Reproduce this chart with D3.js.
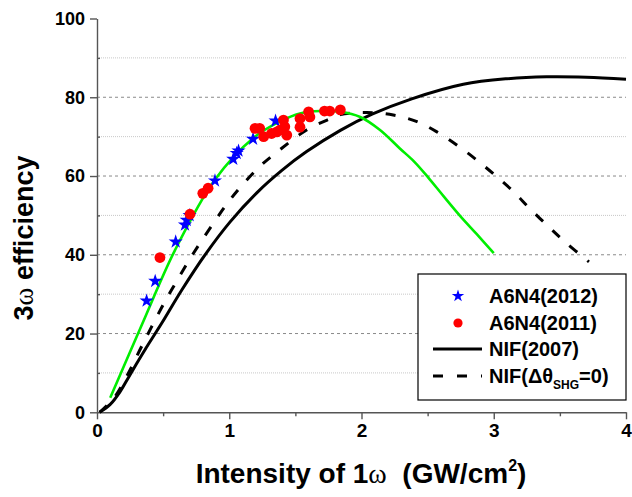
<!DOCTYPE html>
<html>
<head>
<meta charset="utf-8">
<script src="https://cdn.jsdelivr.net/npm/d3@7"></script>
<style>
body { margin: 0; background: #fff; }
svg { display: block; }
text { font-family: "Liberation Sans", Arial, sans-serif; font-weight: bold; fill: #000; }
</style>
</head>
<body>
<div id="plot_area"></div>
<script>
// measured points, A6N4 crystals
var star_x = [0.375, 0.44, 0.595, 0.665, 0.678, 0.70, 0.892, 1.03, 1.056, 1.07, 1.18, 1.35];
var star_y = [28.3, 33.3, 43.3, 47.6, 48.8, 50.0, 58.8, 64.3, 65.8, 66.4, 69.4, 74.0];

var dot_x = [0.476, 0.703, 0.80, 0.84, 1.195, 1.23, 1.26, 1.32, 1.36, 1.385, 1.41, 1.42, 1.435,
             1.535, 1.535, 1.60, 1.61, 1.72, 1.76, 1.84];
var dot_y = [39.3, 50.3, 55.6, 56.9, 72.1, 72.1, 70.0, 70.8, 71.2, 71.7, 74.2, 72.5, 70.4,
             74.6, 72.4, 76.3, 75.0, 76.5, 76.5, 76.8];

// green fit curve
var fit_x = [0.1, 0.34, 0.59, 0.89, 1.18, 1.38, 1.535, 1.69, 1.84, 1.99, 2.14, 2.29, 2.40,
             2.505, 2.62, 2.745, 2.87, 3.0];
var fit_y = [3.7, 22.3, 41.2, 59.0, 69.6, 73.8, 75.9, 76.5, 76.3, 75.0, 71.7, 67.0, 63.6,
             59.6, 54.9, 49.9, 45.3, 40.4];

// NIF(2007)
var nif_x = [0.02, 0.1, 0.17, 0.237, 0.30, 0.363, 0.489, 0.64, 0.817, 1.005, 1.21, 1.40, 1.585,
             1.84, 2.08, 2.38, 2.77, 3.1, 3.40, 3.7, 4.0];
var nif_y = [0, 2.0, 5.0, 8.8, 12.4, 15.9, 22.6, 31.0, 40.0, 48.3, 55.8, 61.5, 66.2,
             71.6, 75.7, 79.6, 83.3, 84.7, 85.2, 85.1, 84.6];

// NIF(dtheta_SHG = 0)
var nif0_x = [0.02, 0.136, 0.237, 0.337, 0.489, 0.59, 0.69, 0.766, 0.88, 0.98, 1.08, 1.23, 1.38,
              1.585, 1.74, 1.84, 2.04, 2.24, 2.42, 2.57, 2.72, 2.87, 3.01, 3.15, 3.27, 3.41,
              3.545, 3.72];
var nif0_y = [0, 4.0, 9.9, 16.7, 26.6, 32.6, 38.3, 42.3, 48.0, 52.8, 57.0, 62.4, 66.6,
              71.7, 74.2, 75.6, 76.1, 75.5, 73.8, 71.2, 67.9, 64.1, 60.2, 56.0, 51.8, 47.3,
              43.1, 38.2];

var x_ticks = [0, 1, 2, 3, 4];
var x_minor = [0.5, 1.5, 2.5, 3.5];
var y_ticks = [0, 20, 40, 60, 80, 100];
var y_minor = [10, 30, 50, 70, 90];

var legend_labels = ['A6N4(2012)', 'A6N4(2011)', 'NIF(2007)', 'NIF(\u0394\u03B8'];

function zipPts(xs, ys){
    return xs.map(function(v, i){ return [v, ys[i]]; });
}

function drawChart(graph_id){
    var width = 632, height = 497;
    var svg = d3.select('#' + graph_id).append('svg')
        .attr('width', width).attr('height', height);

    var x = d3.scaleLinear().domain([0, 4]).range([97, 626]);
    var y = d3.scaleLinear().domain([0, 100]).range([412.3, 18.5]);

    // grid
    svg.append('g').selectAll('line').data(y_minor).join('line')
        .attr('x1', x(0)).attr('x2', x(4))
        .attr('y1', function(d){ return y(d); }).attr('y2', function(d){ return y(d); })
        .attr('stroke', '#c8c8c8').attr('stroke-width', 1).attr('stroke-dasharray', '1,1');
    svg.append('g').selectAll('line').data(y_ticks.filter(function(d){ return d > 0 && d < 100; })).join('line')
        .attr('x1', x(0)).attr('x2', x(4))
        .attr('y1', function(d){ return y(d); }).attr('y2', function(d){ return y(d); })
        .attr('stroke', '#8a8a8a').attr('stroke-width', 1).attr('stroke-dasharray', '3,3');

    // axes
    var xAxis = svg.append('g').attr('transform', 'translate(0,' + y(0) + ')')
        .call(d3.axisBottom(x).tickValues(x_ticks).tickSize(7).tickSizeOuter(0).tickPadding(4)
              .tickFormat(d3.format('d')));
    svg.append('g').attr('transform', 'translate(0,' + y(0) + ')')
        .call(d3.axisBottom(x).tickValues(x_minor).tickSize(4).tickSizeOuter(0).tickFormat(''))
        .select('.domain').remove();
    var yAxis = svg.append('g').attr('transform', 'translate(' + x(0) + ',0)')
        .call(d3.axisLeft(y).tickValues(y_ticks).tickSize(7).tickSizeOuter(0).tickPadding(5));
    svg.append('g').attr('transform', 'translate(' + x(0) + ',0)')
        .call(d3.axisRight(y).tickValues(y_minor).tickSize(3).tickSizeOuter(0).tickFormat(''))
        .select('.domain').remove();
    svg.selectAll('.domain, .tick line').attr('stroke', '#555').attr('stroke-width', 1.4);
    xAxis.selectAll('.tick text').attr('font-size', 19).attr('font-family', 'Liberation Sans, Arial, sans-serif')
        .attr('font-weight', 'bold').attr('fill', '#000');
    yAxis.selectAll('.tick text').attr('font-size', 18).attr('font-family', 'Liberation Sans, Arial, sans-serif')
        .attr('font-weight', 'bold').attr('fill', '#000');

    // axis titles
    var xt = svg.append('text').attr('x', 361).attr('y', 483).attr('text-anchor', 'middle')
        .attr('font-size', 28);
    xt.append('tspan').text('Intensity of 1');
    xt.append('tspan').text('\u03C9').attr('font-family', 'Liberation Serif, serif').attr('font-weight', 'normal');
    xt.append('tspan').text('\u00A0\u00A0(GW/cm');
    xt.append('tspan').text('2').attr('font-size', 16).attr('dy', -12);
    xt.append('tspan').text(')').attr('dy', 12);

    var yt = svg.append('text').attr('transform', 'translate(33,238) rotate(-90)')
        .attr('text-anchor', 'middle').attr('font-size', 27);
    yt.append('tspan').text('3');
    yt.append('tspan').text('\u03C9').attr('font-family', 'Liberation Serif, serif').attr('font-weight', 'normal');
    yt.append('tspan').text(' efficiency');

    // curves
    var line = d3.line()
        .x(function(d){ return x(d[0]); })
        .y(function(d){ return y(d[1]); })
        .curve(d3.curveCatmullRom.alpha(0.5));

    svg.append('path').datum(zipPts(nif_x, nif_y)).attr('d', line)
        .attr('fill', 'none').attr('stroke', '#000').attr('stroke-width', 3);
    svg.append('path').datum(zipPts(nif0_x, nif0_y)).attr('d', line)
        .attr('fill', 'none').attr('stroke', '#000').attr('stroke-width', 3)
        .attr('stroke-dasharray', '10,13');
    svg.append('path').datum(zipPts(fit_x, fit_y)).attr('d', line)
        .attr('fill', 'none').attr('stroke', '#00ee00').attr('stroke-width', 2.6);

    // points
    svg.append('g').selectAll('path').data(zipPts(star_x, star_y)).join('path')
        .attr('d', d3.symbol().type(d3.symbolStar).size(62))
        .attr('transform', function(d){ return 'translate(' + x(d[0]) + ',' + y(d[1]) + ')'; })
        .attr('fill', '#0000ff');
    svg.append('g').selectAll('circle').data(zipPts(dot_x, dot_y)).join('circle')
        .attr('cx', function(d){ return x(d[0]); })
        .attr('cy', function(d){ return y(d[1]); })
        .attr('r', 5.4).attr('fill', '#ff0000');

    drawLegend(svg);
}

function drawLegend(svg){
    var g = svg.append('g').attr('transform', 'translate(418,274)');
    g.append('rect').attr('width', 208).attr('height', 126)
        .attr('fill', '#fff').attr('stroke', '#000').attr('stroke-width', 1.2);
    var rows = [22, 49, 75, 102];
    g.append('path').attr('d', d3.symbol().type(d3.symbolStar).size(48))
        .attr('transform', 'translate(40,' + rows[0] + ')').attr('fill', '#0000ff');
    g.append('circle').attr('cx', 40).attr('cy', rows[1]).attr('r', 4.6).attr('fill', '#ff0000');
    g.append('line').attr('x1', 15).attr('x2', 64).attr('y1', rows[2]).attr('y2', rows[2])
        .attr('stroke', '#000').attr('stroke-width', 3);
    g.append('line').attr('x1', 15).attr('x2', 64).attr('y1', rows[3]).attr('y2', rows[3])
        .attr('stroke', '#000').attr('stroke-width', 3).attr('stroke-dasharray', '10,14');

    legend_labels.forEach(function(lbl, i){
        var t = g.append('text').attr('x', 71).attr('y', rows[i] + 7).attr('font-size', 20);
        t.append('tspan').text(lbl);
        if(i == 3){
            t.append('tspan').text('SHG').attr('font-size', 12).attr('dy', 6);
            t.append('tspan').text('=0)').attr('dy', -6);
        }
    });
}

drawChart('plot_area');
</script>
</body>
</html>
